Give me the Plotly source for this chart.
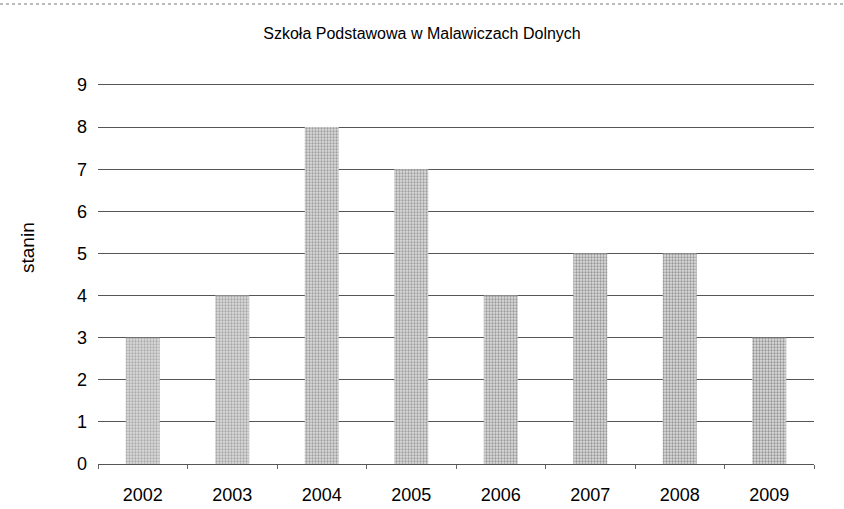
import plotly.graph_objects as go

years = ["2002", "2003", "2004", "2005", "2006", "2007", "2008", "2009"]
stanin = [3, 4, 8, 7, 4, 5, 5, 3]
y_ticks = [0, 1, 2, 3, 4, 5, 6, 7, 8, 9]
title_text = "Szkoła Podstawowa w Malawiczach Dolnych"
y_title = "stanin"

dot_colors = ["#777777", "#707070", "#606060", "#606060", "#585858", "#505050", "#505050", "#4c4c4c"]

fig = go.Figure()
fig.add_trace(go.Bar(
    x=years, y=stanin,
    marker=dict(
        color="white",
        line=dict(width=0),
        pattern=dict(shape=".", fgcolor=dot_colors, bgcolor="#dcdcdc",
                     size=3, solidity=0.45, fillmode="overlay"),
    ),
    width=0.38,
))

fig.update_layout(
    width=844, height=509,
    paper_bgcolor="white", plot_bgcolor="white",
    margin=dict(l=98, r=30, t=85, b=45),
    showlegend=False,
    font=dict(family="Liberation Sans, Arial, sans-serif", color="black"),
    title=dict(text=title_text, x=0.5, xanchor="center", y=1 - 33 / 509, yanchor="middle",
               font=dict(size=16, color="black")),
    xaxis=dict(
        type="category", tickfont=dict(size=18), showgrid=False,
        ticks="outside", tickson="boundaries", ticklen=4, tickcolor="#666",
        showline=True, mirror=True, linecolor="#555", linewidth=1,
        zeroline=False, ticklabelstandoff=14, automargin=False,
    ),
    yaxis=dict(
        range=[0, 9], tickvals=y_ticks, tickfont=dict(size=18),
        showgrid=True, gridcolor="#555", gridwidth=1,
        zeroline=True, zerolinecolor="#555", zerolinewidth=1,
        showline=False, ticks="", ticklabelstandoff=10, automargin=False,
    ),
)

fig.add_annotation(text=y_title, xref="paper", yref="paper",
                   x=(28 - 98) / 716, y=1 - (248 - 85) / 379,
                   xanchor="center", yanchor="middle", textangle=-90,
                   showarrow=False, font=dict(size=19, color="black"))

fig.add_shape(type="line", xref="paper", yref="paper",
              x0=-98 / 716, x1=1 + 30 / 716, y0=1 + 81 / 379, y1=1 + 81 / 379,
              line=dict(color="#777", width=1, dash="dot"))

fig.write_html("out.html", config={"displayModeBar": False},
               post_script="document.body.style.margin='0';")
